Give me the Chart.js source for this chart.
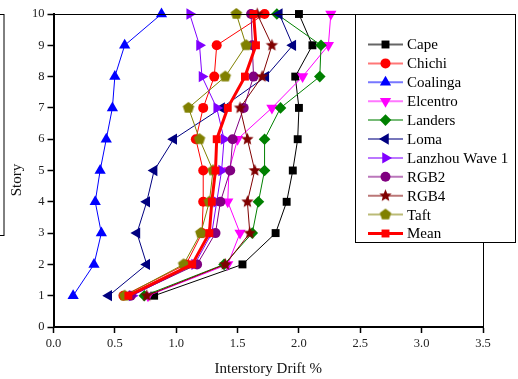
<!DOCTYPE html>
<html>
<head>
<meta charset="utf-8">
<script src="https://cdn.jsdelivr.net/npm/chart.js"></script>
<style>
html,body{margin:0;padding:0;background:#fff;}
#wrap{width:518px;height:379px;}
</style>
</head>
<body>
<div id="wrap"><canvas id="drift_chart" width="518" height="379"></canvas></div>
<script>
// story levels and interstory drift (%) per record
const stories   = [1, 2, 3, 4, 5, 6, 7, 8, 9, 10];
const cape      = [0.82, 1.54, 1.81, 1.90, 1.95, 1.99, 2.00, 1.97, 2.11, 2.00];
const chichi    = [0.57, 1.08, 1.21, 1.22, 1.22, 1.16, 1.22, 1.31, 1.33, 1.72];
const coalinga  = [0.16, 0.33, 0.39, 0.34, 0.38, 0.43, 0.48, 0.50, 0.58, 0.88];
const elcentro  = [0.77, 1.42, 1.52, 1.42, 1.43, 1.50, 1.78, 2.03, 2.24, 2.26];
const landers   = [0.74, 1.39, 1.62, 1.67, 1.72, 1.72, 1.85, 2.17, 2.18, 1.82];
const loma      = [0.45, 0.76, 0.68, 0.76, 0.82, 0.98, 1.37, 1.73, 1.95, 1.84];
const lanzhou   = [0.64, 1.15, 1.29, 1.33, 1.37, 1.39, 1.33, 1.21, 1.19, 1.11];
const rgb2      = [0.63, 1.17, 1.32, 1.36, 1.44, 1.46, 1.55, 1.63, 1.62, 1.61];
const rgb4      = [0.76, 1.40, 1.60, 1.58, 1.64, 1.58, 1.52, 1.70, 1.78, 1.66];
const taft      = [0.58, 1.06, 1.20, 1.27, 1.30, 1.19, 1.10, 1.40, 1.57, 1.49];
const mean      = [0.61, 1.13, 1.27, 1.29, 1.32, 1.33, 1.42, 1.56, 1.65, 1.63];

const x_ticks = [0, 0.5, 1, 1.5, 2, 2.5, 3, 3.5];
const y_ticks = [0, 1, 2, 3, 4, 5, 6, 7, 8, 9, 10];

function poly_canvas(color, r, n, inner){
  // filled star / polygon marker drawn once to an offscreen canvas
  let size = Math.ceil(r * 2) + 2;
  let c = document.createElement('canvas');
  c.width = size; c.height = size;
  let ctx = c.getContext('2d');
  let cx = size / 2, cy = size / 2;
  let steps = inner ? n * 2 : n;
  ctx.fillStyle = color;
  ctx.beginPath();
  for (let i = 0; i < steps; i++){
    let ang = -Math.PI / 2 + i * Math.PI * 2 / steps;
    let rr = (inner && i % 2) ? r * inner : r;
    let px = cx + Math.cos(ang) * rr, py = cy + Math.sin(ang) * rr;
    if (i == 0) ctx.moveTo(px, py); else ctx.lineTo(px, py);
  }
  ctx.closePath();
  ctx.fill();
  return c;
}

function series(label, values, color, style, radius, extra){
  return Object.assign({
    label: label,
    data: values.map((v, i) => ({x: v, y: stories[i]})),
    borderColor: color,
    backgroundColor: color,
    pointBackgroundColor: color,
    pointBorderColor: color,
    pointBorderWidth: 0,
    borderWidth: 1,
    pointStyle: style,
    pointRadius: radius,
    pointRotation: 0,
    showLine: true,
    tension: 0,
    clip: false
  }, extra || {});
}

const datasets = [
  series('Cape', cape, '#000000', 'rect', 5.6),
  series('Chichi', chichi, '#ff0000', 'circle', 5),
  series('Coalinga', coalinga, '#0000ff', 'triangle', 6.5),
  series('Elcentro', elcentro, '#ff00ff', 'triangle', 6.5, {pointRotation: 180}),
  series('Landers', landers, '#008000', 'rectRot', 5.8),
  series('Loma', loma, '#000080', 'triangle', 6.5, {pointRotation: 270}),
  series('Lanzhou Wave 1', lanzhou, '#8000ff', 'triangle', 6.5, {pointRotation: 90}),
  series('RGB2', rgb2, '#800080', 'circle', 5),
  series('RGB4', rgb4, '#800000', poly_canvas('#800000', 6.5, 5, 0.45), 6),
  series('Taft', taft, '#808000', poly_canvas('#808000', 6, 5), 6),
  series('Mean', mean, '#ff0000', 'rect', 5.6, {borderWidth: 3})
];
// later records sit on top, like the original plot
datasets.forEach((d, i) => d.order = datasets.length - i);

const legend_alpha = ['#00000099', '#ff000088', '#0000ff88', '#ff00ff88', '#00800088', '#00008088',
                      '#8000ff88', '#80008088', '#80000088', '#80800088', '#ff0000'];

const frame_legend = {
  id: 'frame_legend',
  afterDraw(chart){
    const ctx = chart.ctx, a = chart.chartArea;
    ctx.save();
    ctx.strokeStyle = '#000';
    ctx.lineWidth = 1;
    // top and right frame
    ctx.beginPath();
    ctx.moveTo(a.left, a.top + 0.5); ctx.lineTo(a.right, a.top + 0.5);
    ctx.moveTo(a.right + 0.5, a.top); ctx.lineTo(a.right + 0.5, a.bottom);
    ctx.stroke();
    // leftover box edge at far left
    ctx.strokeRect(-10.5, a.top + 0.5, 14.5, 221);

    // y axis title
    ctx.save();
    ctx.fillStyle = '#111';
    ctx.font = '15px "Liberation Serif"';
    ctx.textAlign = 'center';
    ctx.textBaseline = 'middle';
    ctx.translate(17, 180);
    ctx.rotate(-Math.PI / 2);
    ctx.fillText('Story', 0, 0);
    ctx.restore();

    // legend box
    let lx = 355.5, ly = a.top + 0.5, lw = 160, lh = 228;
    ctx.fillStyle = '#fff';
    ctx.fillRect(lx, ly, lw, lh);
    ctx.strokeRect(lx, ly, lw, lh);

    ctx.font = '15px "Liberation Serif"';
    ctx.textBaseline = 'middle';
    ctx.textAlign = 'left';
    chart.data.datasets.forEach((ds, i) => {
      let y = ly + 30 + i * 18.9;
      ctx.strokeStyle = legend_alpha[i];
      ctx.lineWidth = ds.label == 'Mean' ? 3 : 2;
      ctx.beginPath();
      ctx.moveTo(368, y); ctx.lineTo(403, y);
      ctx.stroke();
      ctx.fillStyle = ds.pointBackgroundColor;
      ctx.strokeStyle = ds.pointBorderColor;
      Chart.helpers.drawPoint(ctx, {
        pointStyle: ds.pointStyle, radius: ds.pointRadius,
        rotation: ds.pointRotation, borderWidth: 0
      }, 385.5, y);
      ctx.fillStyle = '#000';
      ctx.fillText(ds.label, 407, y + 1);
    });
    ctx.restore();
  }
};

let drift_ctx = document.getElementById('drift_chart').getContext('2d');
let drift_chart = new Chart(drift_ctx, {
  type: 'scatter',
  data: { datasets: datasets },
  options: {
    responsive: false,
    animation: false,
    events: [],
    layout: { padding: { top: 14, right: 35, left: 0, bottom: 0 } },
    plugins: { legend: { display: false }, tooltip: { enabled: false } },
    scales: {
      x: {
        type: 'linear', min: 0, max: 3.5,
        afterBuildTicks: s => { s.ticks = x_ticks.map(v => ({value: v})); },
        afterFit: s => { s.height = 52; },
        border: { color: '#000', width: 2 },
        grid: { drawOnChartArea: false, tickLength: 6, tickColor: '#000', tickWidth: 1.5 },
        ticks: {
          color: '#222', padding: 3,
          font: { family: 'Liberation Serif', size: 12.5 },
          callback: v => v.toFixed(1)
        },
        title: {
          display: true, text: 'Interstory Drift %', color: '#111',
          font: { family: 'Liberation Serif', size: 15 },
          padding: { top: 4, bottom: 1 }
        }
      },
      y: {
        type: 'linear', min: 0, max: 10,
        afterBuildTicks: s => { s.ticks = y_ticks.map(v => ({value: v})); },
        afterFit: s => { s.width = 53.5; },
        border: { color: '#000', width: 2 },
        grid: { drawOnChartArea: false, tickLength: 6, tickColor: '#000', tickWidth: 1.5 },
        ticks: {
          color: '#222', padding: 3,
          font: { family: 'Liberation Serif', size: 12.5 }
        },
        title: { display: false }
      }
    }
  },
  plugins: [frame_legend]
});
</script>
</body>
</html>
